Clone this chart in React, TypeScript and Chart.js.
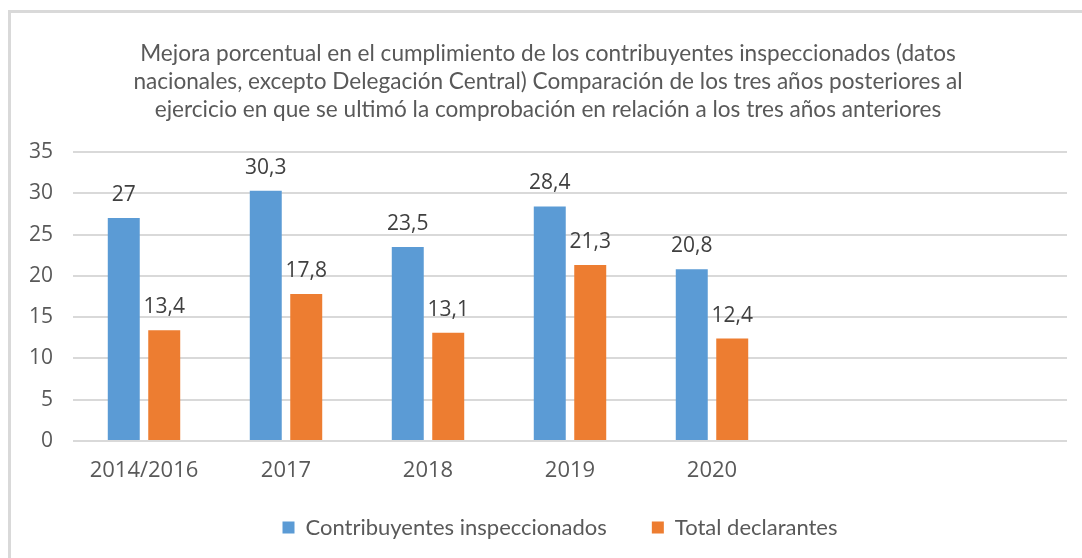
import React, { useEffect, useRef } from "react";
import { Chart, registerables } from "chart.js";

Chart.register(...registerables);

const categories = ["2014/2016", "2017", "2018", "2019", "2020", "", ""];
const contribuyentes = [27, 30.3, 23.5, 28.4, 20.8];
const totalDeclarantes = [13.4, 17.8, 13.1, 21.3, 12.4];
const seriesNames = ["Contribuyentes inspeccionados", "Total declarantes"];
const titleLines = [
  "Mejora porcentual en el cumplimiento de los contribuyentes inspeccionados (datos",
  "nacionales, excepto Delegación Central) Comparación de los tres años posteriores al",
  "ejercicio en que se ultimó la comprobación en relación a los tres años anteriores",
];
const yMin = 0;
const yMax = 35;
const yStep = 5;

const NUM_FONT = "'Open Sans', 'Noto Sans', sans-serif";
const TEXT_FONT = "Lato, 'Open Sans', sans-serif";

const valueLabels = {
  id: "valueLabels",
  afterDatasetsDraw(chart: any) {
    const ctx = chart.ctx;
    ctx.save();
    ctx.font = `21px ${NUM_FONT}`;
    ctx.fillStyle = "#404040";
    ctx.textAlign = "center";
    ctx.textBaseline = "alphabetic";
    chart.data.datasets.forEach((ds: any, i: number) => {
      const meta = chart.getDatasetMeta(i);
      meta.data.forEach((bar: any, j: number) => {
        const v = ds.data[j];
        if (v == null) return;
        ctx.fillText(String(v).replace(".", ","), bar.x, bar.y - 17);
      });
    });
    ctx.restore();
  },
};

const legendShift = {
  id: "legendShift",
  afterLayout(chart: any) {
    if (chart.legend) {
      chart.legend.left += 24;
      chart.legend.top -= 19.5;
    }
  },
};

export default function App() {
  const canvasRef = useRef<HTMLCanvasElement | null>(null);

  useEffect(() => {
    if (!canvasRef.current) return;
    const chart = new Chart(canvasRef.current, {
      type: "bar",
      data: {
        labels: categories,
        datasets: [
          {
            label: seriesNames[0],
            data: contribuyentes,
            backgroundColor: "#5B9BD5",
            borderWidth: 0,
            categoryPercentage: 0.57,
            barPercentage: 0.79,
          },
          {
            label: seriesNames[1],
            data: totalDeclarantes,
            backgroundColor: "#ED7D31",
            borderWidth: 0,
            categoryPercentage: 0.57,
            barPercentage: 0.79,
          },
        ],
      },
      options: {
        responsive: false,
        animation: false,
        devicePixelRatio: 1,
        layout: { padding: { left: 29, right: 15, top: 0, bottom: -10 } },
        plugins: {
          title: {
            display: true,
            text: titleLines,
            color: "#595959",
            font: { family: TEXT_FONT, size: 22.6, weight: "normal", lineHeight: 28 / 22.6 },
            padding: { top: 40, bottom: 28 },
          },
          legend: {
            position: "bottom",
            labels: {
              boxWidth: 12,
              boxHeight: 12,
              padding: 45,
              color: "#595959",
              font: { family: TEXT_FONT, size: 22 },
            },
          },
          tooltip: { enabled: false },
        },
        scales: {
          x: {
            grid: { display: false, drawTicks: false },
            border: { display: false },
            ticks: {
              color: "#595959",
              padding: 18.5,
              maxRotation: 0,
              autoSkip: false,
              font: { family: NUM_FONT, size: 22, lineHeight: 1 },
            },
            afterFit(scale: any) {
              scale.height = 50;
            },
          },
          y: {
            min: yMin,
            max: yMax,
            grid: { color: "#d9d9d9", lineWidth: 2, drawTicks: false },
            border: { display: false },
            ticks: {
              stepSize: yStep,
              color: "#595959",
              padding: 20,
              font: { family: NUM_FONT, size: 21 },
            },
            afterFit(scale: any) {
              scale.width = 44;
            },
          },
        },
      },
      plugins: [valueLabels, legendShift],
    });
    return () => chart.destroy();
  }, []);

  return (
    <div
      style={{
        position: "fixed",
        left: 0,
        top: 0,
        width: 1082,
        height: 558,
        overflow: "hidden",
        background: "#ffffff",
      }}
    >
      <div
        style={{
          position: "absolute",
          left: 8,
          top: 10,
          width: 1200,
          height: 700,
          borderLeft: "3px solid #d9d9d9",
          borderTop: "3px solid #d9d9d9",
        }}
      />
      <canvas
        ref={canvasRef}
        width={1082}
        height={558}
        style={{ position: "absolute", left: 0, top: 0, width: 1082, height: 558 }}
      />
    </div>
  );
}
